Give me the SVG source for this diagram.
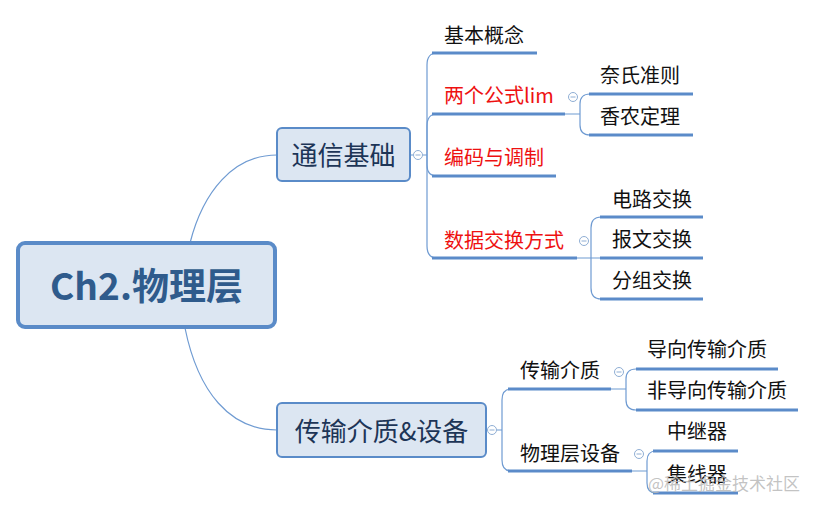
<svg xmlns="http://www.w3.org/2000/svg" width="816" height="509" viewBox="0 0 816 509">
<style>
text{font-family:"Noto Sans CJK SC","Noto Sans",sans-serif;}
.box{fill:#dce6f2;stroke:#5a8bc8;}
.t1{font-size:26px;fill:#1d3557;text-anchor:middle;}
.t2{font-size:20px;fill:#111;}
.red{fill:#ee1111;}
.ul{stroke:#5b8bc9;stroke-width:3;fill:none;}
.cn{stroke:#6f9bd2;stroke-width:1.2;fill:none;}
.btn{fill:#fff;stroke:#8faed4;stroke-width:1;}
.btn-m{stroke:#8faed4;stroke-width:1;}
.wm{font-size:17px;fill:#b9b9b9;fill-opacity:0.85;}
</style>
<defs>
<g id="minus"><circle class="btn" cx="0" cy="0" r="4.5"/><line class="btn-m" x1="-2.5" y1="0" x2="2.5" y2="0"/></g>
</defs>
<rect width="816" height="509" fill="#fff"/>
<g id="connectors">
<path class="cn" d="M190 243 C203 192 233 155 277 155"/>
<path class="cn" d="M185 328 C198 392 230 430 277 430"/>
<path class="cn" d="M410 155 H413.5 M422.5 155 H427"/>
<path class="cn" d="M427 155 V65 Q427 53 437 53"/>
<path class="cn" d="M427 155 V126 Q427 114 437 114"/>
<path class="cn" d="M427 155 V165 Q427 176 437 176"/>
<path class="cn" d="M427 155 V246 Q427 258 437 258"/>
<path class="cn" d="M565 114 H580 M580 114 V104 Q580 94 590 94 M580 114 V125 Q580 135 590 135"/>
<path class="cn" d="M577 258 H600 M591 258 V228 Q591 217 601 217 M591 258 V288 Q591 299 601 299"/>
<path class="cn" d="M486 430 H487.5 M496.5 430 H502 M502 430 V400 Q502 389 511 389 M502 430 V460 Q502 471 511 471"/>
<path class="cn" d="M611 389 H626 M626 389 V379 Q626 369 636 369 M626 389 V400 Q626 410 636 410"/>
<path class="cn" d="M632 471 H647 M647 471 V461 Q647 451 656 451 M647 471 V483 Q647 493 656 493"/>
</g>
<g id="root">
<rect class="box" x="18" y="243" width="257" height="84" rx="7" stroke-width="4"/>
<text x="146.5" y="300" font-size="37" font-weight="bold" fill="#2f5b8c" text-anchor="middle">Ch2.物理层</text>
</g>
<g id="n-comm">
<rect class="box" x="277" y="128" width="133" height="53" rx="5" stroke-width="2"/>
<text class="t1" x="343.5" y="165">通信基础</text>
<use href="#minus" x="418" y="155"/>
</g>
<g id="n-basic"><text class="t2" x="444" y="43">基本概念</text><line class="ul" x1="432" y1="53" x2="537" y2="53"/></g>
<g id="n-formula"><text class="t2 red" x="444" y="103">两个公式lim</text><line class="ul" x1="432" y1="114" x2="565" y2="114"/><use href="#minus" x="573" y="97"/></g>
<g id="n-nyquist"><text class="t2" x="600" y="83">奈氏准则</text><line class="ul" x1="589" y1="94" x2="693" y2="94"/></g>
<g id="n-shannon"><text class="t2" x="600" y="124">香农定理</text><line class="ul" x1="589" y1="135" x2="693" y2="135"/></g>
<g id="n-coding"><text class="t2 red" x="444" y="165">编码与调制</text><line class="ul" x1="432" y1="176" x2="556" y2="176"/></g>
<g id="n-switch"><text class="t2 red" x="444" y="248">数据交换方式</text><line class="ul" x1="432" y1="258" x2="577" y2="258"/><use href="#minus" x="584" y="241"/></g>
<g id="n-circuit"><text class="t2" x="612" y="207">电路交换</text><line class="ul" x1="600" y1="217" x2="703" y2="217"/></g>
<g id="n-message"><text class="t2" x="612" y="247">报文交换</text><line class="ul" x1="600" y1="258" x2="703" y2="258"/></g>
<g id="n-packet"><text class="t2" x="612" y="288">分组交换</text><line class="ul" x1="600" y1="299" x2="703" y2="299"/></g>
<g id="n-media-dev">
<rect class="box" x="277" y="403" width="209" height="54" rx="5" stroke-width="2"/>
<text class="t1" x="381.5" y="441">传输介质&amp;设备</text>
<use href="#minus" x="492" y="430"/>
</g>
<g id="n-media"><text class="t2" x="520" y="378">传输介质</text><line class="ul" x1="508" y1="389" x2="611" y2="389"/><use href="#minus" x="619" y="372"/></g>
<g id="n-guided"><text class="t2" x="647" y="357">导向传输介质</text><line class="ul" x1="636" y1="369" x2="778" y2="369"/></g>
<g id="n-unguided"><text class="t2" x="647" y="398">非导向传输介质</text><line class="ul" x1="636" y1="410" x2="798" y2="410"/></g>
<g id="n-device"><text class="t2" x="520" y="461">物理层设备</text><line class="ul" x1="508" y1="471" x2="632" y2="471"/><use href="#minus" x="639" y="454"/></g>
<g id="n-repeater"><text class="t2" x="667" y="439">中继器</text><line class="ul" x1="653" y1="451" x2="738" y2="451"/></g>
<g id="n-hub"><text class="t2" x="667" y="482">集线器</text><line class="ul" x1="653" y1="493" x2="738" y2="493"/></g>
<text class="wm" x="648" y="490">@稀土掘金技术社区</text>
</svg>
